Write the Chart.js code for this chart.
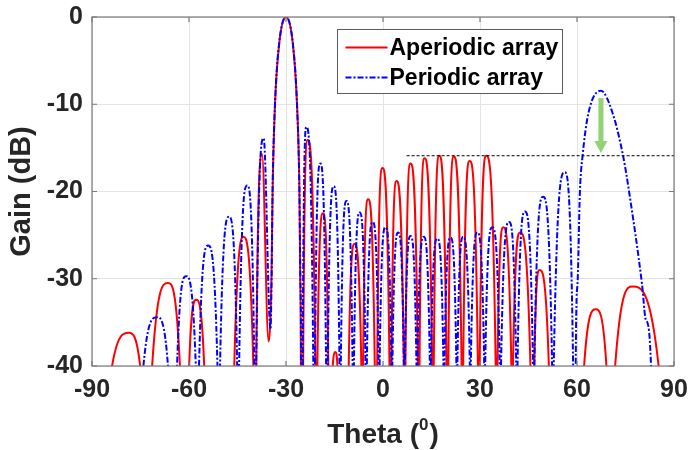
<!DOCTYPE html>
<html>
<head>
<meta charset="utf-8">
<script src="https://cdn.jsdelivr.net/npm/chart.js@4.4.1/dist/chart.umd.min.js"></script>
<style>
html,body{margin:0;padding:0;background:#fff;}
#wrap{width:691px;height:450px;}
</style>
</head>
<body>
<div id="wrap"><canvas id="c" width="691" height="450"></canvas></div>
<script>
// ---- Data (theta in degrees, gain in dB; deep nulls lie far below the -40 dB floor) ----
const apTheta = [-88,
 -83.8,-78.6,-75.1, -73.3,
 -71.4,-66.5,-62.8, -61.4,
 -59.95,-57.8,-55.3, -50.6,
 -46.0,-43.2,-40.1, -39.65,
 -39.2,-37.4, -35.4,
 -34.5,-34.15,-33.4,-32.1,-30.0,-27.9,-26.6,-25.85,-25.6,-25.4, -25.05,
 -24.7,-23.3,-20.9, -20.6,
 -20.3,-18.55,-16.9, -16.2,
 -15.55,-14.7,-14.1, -12.4,
 -10.6,-8.8,-6.7, -6.4,
 -6.15,-4.6,-2.55, -2.2,
 -1.8,-0.16,2.0, 2.3,
 2.6,4.2,6.45, 6.7,
 6.95,8.5,10.8, 11.05,
 11.3,12.85,15.2, 15.45,
 15.7,17.4,19.65, 19.9,
 20.2,21.9,24.3, 24.55,
 24.8,26.8,29.35, 29.6,
 29.9,31.95,34.85, 35.1,
 35.4,37.2,39.7, 39.95,
 40.2,42.4,45.6, 46.2,
 46.8,48.4,51.3, 56.5,
 62.2,65.8,69.1, 70.4,
 71.8,77.2,85.25, 87.5];
const apGain = [-150,
 -40,-36.2,-40, -150,
 -40,-30.5,-40, -150,
 -40,-32.4,-40, -150,
 -40,-25.2,-40, -150,
 -40,-15.7, -37.2,
 -30,-20,-10,-3,0,-3,-10,-20,-30,-40, -150,
 -40,-14.1,-40, -150,
 -40,-22.5,-40, -150,
 -40,-38.4,-40, -150,
 -40,-26.0,-40, -150,
 -40,-20.9,-40, -150,
 -40,-17.3,-40, -150,
 -40,-18.8,-40, -150,
 -40,-16.8,-40, -150,
 -40,-16.2,-40, -150,
 -40,-15.9,-40, -150,
 -40,-16.0,-40, -150,
 -40,-16.5,-40, -150,
 -40,-15.9,-40, -150,
 -40,-24.1,-40, -150,
 -40,-24.7,-40, -150,
 -40,-29.0,-40, -150,
 -40,-33.5,-40, -150,
 -40,-30.9,-40, -150];

const perTheta = [-78,
 -74.1,-69.9,-66.5, -65.1,
 -63.7,-60.9,-57.9, -57.4,
 -56.9,-54.1,-51.2, -50.8,
 -50.4,-47.6,-45.1, -44.8,
 -44.5,-42.0,-39.8, -39.5,
 -39.2,-36.9, -34.8,
 -34.45,-34.15,-33.4,-32.1,-30.0,-27.9,-26.6,-25.85,-25.55,-25.35, -25.1,
 -24.85,-23.7,-21.55, -21.3,
 -21.05,-19.4,-17.6, -17.35,
 -17.1,-15.25,-13.45, -13.25,
 -13.05,-11.3,-9.4, -9.2,
 -9.0,-7.2,-5.4, -5.2,
 -5.0,-3.2,-1.35, -1.2,
 -1.05,0.77,2.6, 2.75,
 2.9,4.7,6.45, 6.6,
 6.75,8.5,10.35, 10.5,
 10.65,12.6,14.5, 14.65,
 14.8,16.8,18.7, 18.85,
 19.0,20.9,22.7, 22.85,
 23.0,24.8,26.85, 27.0,
 27.15,29.2,31.3, 31.45,
 31.6,33.8,36.1, 36.3,
 36.5,39.0,41.2, 41.4,
 41.6,43.9,46.4, 46.6,
 46.8,49.5,52.3, 52.55,
 52.8,56.2,58.8, 59.2,
 59.6,60.15,60.9,61.7,63.55,67.4,71.0,74.3,76.1,80.1,81.3,82.9, 84];
const perGain = [-150,
 -40,-34.4,-40, -150,
 -40,-29.7,-40, -150,
 -40,-26.2,-40, -150,
 -40,-22.9,-40, -150,
 -40,-19.3,-40, -150,
 -40,-13.9, -35.8,
 -30,-20,-10,-3,0,-3,-10,-20,-30,-40, -150,
 -40,-12.6,-40, -150,
 -40,-16.8,-40, -150,
 -40,-19.4,-40, -150,
 -40,-21.1,-40, -150,
 -40,-22.4,-40, -150,
 -40,-23.5,-40, -150,
 -40,-24.1,-40, -150,
 -40,-24.7,-40, -150,
 -40,-25.1,-40, -150,
 -40,-25.2,-40, -150,
 -40,-25.4,-40, -150,
 -40,-25.3,-40, -150,
 -40,-25.2,-40, -150,
 -40,-24.7,-40, -150,
 -40,-24.1,-40, -150,
 -40,-23.5,-40, -150,
 -40,-22.3,-40, -150,
 -40,-20.6,-40, -150,
 -40,-17.8,-40, -150,
 -40,-30.6,-20,-16,-11,-8.45,-11,-16,-20,-30.6,-34.7,-40, -150];

const levelTheta = [7.3, 90];
const levelGain = [-15.9, -15.9];
const arrowTheta = 67.4;
const arrowGain = [-9.3, -15.6];

const xTicks = [-90,-60,-30,0,30,60,90];
const yTicks = [-40,-30,-20,-10,0];
const seriesNames = ['Aperiodic array','Periodic array'];

const pts = (xs, ys) => xs.map((x, i) => ({x: x, y: ys[i]}));

const BOX = '#7a7a7a';
const TXT = '#262626';

const overlay = {
  id: 'overlay',
  afterDatasetsDraw(chart) {
    const ctx = chart.ctx, a = chart.chartArea;
    const xs = chart.scales.x, ys = chart.scales.y;
    ctx.save();
    // green arrow
    const ax = xs.getPixelForValue(arrowTheta);
    const y0 = ys.getPixelForValue(arrowGain[0]);
    const y1 = ys.getPixelForValue(arrowGain[1]);
    ctx.fillStyle = '#92d174';
    ctx.fillRect(ax - 2.5, y0, 5, (y1 - y0) - 11);
    ctx.beginPath();
    ctx.moveTo(ax - 6.5, y1 - 12);
    ctx.lineTo(ax + 6.5, y1 - 12);
    ctx.lineTo(ax, y1);
    ctx.closePath();
    ctx.fill();
    // axes box with inward ticks
    ctx.strokeStyle = BOX;
    ctx.lineWidth = 1.2;
    ctx.strokeRect(a.left, a.top, a.right - a.left, a.bottom - a.top);
    ctx.beginPath();
    xTicks.forEach(v => {
      const p = xs.getPixelForValue(v);
      ctx.moveTo(p, a.bottom); ctx.lineTo(p, a.bottom - 5);
      ctx.moveTo(p, a.top); ctx.lineTo(p, a.top + 5);
    });
    yTicks.forEach(v => {
      const p = ys.getPixelForValue(v);
      ctx.moveTo(a.left, p); ctx.lineTo(a.left + 5, p);
      ctx.moveTo(a.right, p); ctx.lineTo(a.right - 5, p);
    });
    ctx.stroke();
    // legend
    const lx = 337.5, ly = 29.5, lw = 225, lh = 64;
    ctx.fillStyle = '#fff';
    ctx.fillRect(lx, ly, lw, lh);
    ctx.strokeStyle = '#5a5a5a';
    ctx.lineWidth = 1;
    ctx.strokeRect(lx, ly, lw, lh);
    const rows = [ly + 18, ly + 48];
    const styles = [{c: '#ff0000', d: []}, {c: '#0000ff', d: [6,2,2,2]}];
    rows.forEach((ry, i) => {
      ctx.beginPath();
      ctx.setLineDash(styles[i].d);
      ctx.strokeStyle = styles[i].c;
      ctx.lineWidth = 2;
      ctx.moveTo(lx + 8, ry); ctx.lineTo(lx + 50, ry);
      ctx.stroke();
      ctx.setLineDash([]);
      ctx.fillStyle = '#000';
      ctx.font = 'bold 23px "Liberation Sans", Arial, sans-serif';
      ctx.textAlign = 'left';
      ctx.textBaseline = 'middle';
      ctx.fillText(seriesNames[i], lx + 52, ry + 1);
    });
    // axis titles
    ctx.fillStyle = TXT;
    ctx.save();
    ctx.translate(22, (a.top + a.bottom) / 2);
    ctx.rotate(-Math.PI / 2);
    ctx.font = 'bold 29px "Liberation Sans", Arial, sans-serif';
    ctx.textAlign = 'center';
    ctx.textBaseline = 'middle';
    ctx.fillText('Gain (dB)', 0, 0);
    ctx.restore();
    const big = 'bold 28px "Liberation Sans", Arial, sans-serif';
    const small = 'bold 17px "Liberation Sans", Arial, sans-serif';
    ctx.font = big; const w1 = ctx.measureText('Theta (').width; const w3 = ctx.measureText(')').width;
    ctx.font = small; const w2 = ctx.measureText('0').width;
    const total = w1 + w2 + 1 + w3;
    let tx = (a.left + a.right) / 2 - total / 2;
    const base = 443;
    ctx.textAlign = 'left';
    ctx.textBaseline = 'alphabetic';
    ctx.font = big; ctx.fillText('Theta (', tx, base);
    ctx.font = small; ctx.fillText('0', tx + w1, base - 13);
    ctx.font = big; ctx.fillText(')', tx + w1 + w2 + 1, base);
    ctx.restore();
  }
};

new Chart(document.getElementById('c'), {
  type: 'line',
  data: {
    datasets: [
      {label: 'level', data: pts(levelTheta, levelGain), borderColor: '#000', borderWidth: 1, borderDash: [3,2], pointRadius: 0, order: 0},
      {label: seriesNames[1], data: pts(perTheta, perGain), borderColor: '#0000ff', borderWidth: 2, borderDash: [6,2,2,2], pointRadius: 0, cubicInterpolationMode: 'monotone', order: 1},
      {label: seriesNames[0], data: pts(apTheta, apGain), borderColor: '#ff0000', borderWidth: 2, pointRadius: 0, cubicInterpolationMode: 'monotone', order: 2}
    ]
  },
  options: {
    responsive: false,
    animation: false,
    devicePixelRatio: 1,
    clip: 0,
    layout: {padding: {left: 0, right: 17, top: 17, bottom: 0}},
    plugins: {legend: {display: false}, tooltip: {enabled: false}},
    scales: {
      x: {
        type: 'linear', min: -90, max: 90,
        afterBuildTicks: s => { s.ticks = xTicks.map(v => ({value: v})); },
        afterFit: s => { s.height = 84; s.paddingLeft = 0; s.paddingRight = 0; },
        grid: {color: '#e3e3e3', lineWidth: 1, drawTicks: false},
        border: {display: false},
        ticks: {padding: 9, color: TXT, font: {family: '"Liberation Sans", Arial, sans-serif', size: 25, weight: 'bold'}, maxRotation: 0}
      },
      y: {
        type: 'linear', min: -40, max: 0,
        afterBuildTicks: s => { s.ticks = yTicks.map(v => ({value: v})); },
        afterFit: s => { s.width = 92; s.paddingTop = 0; s.paddingBottom = 0; },
        grid: {color: '#e3e3e3', lineWidth: 1, drawTicks: false},
        border: {display: false},
        ticks: {padding: 9, color: TXT, font: {family: '"Liberation Sans", Arial, sans-serif', size: 25, weight: 'bold'}}
      }
    }
  },
  plugins: [overlay]
});
</script>
</body>
</html>
